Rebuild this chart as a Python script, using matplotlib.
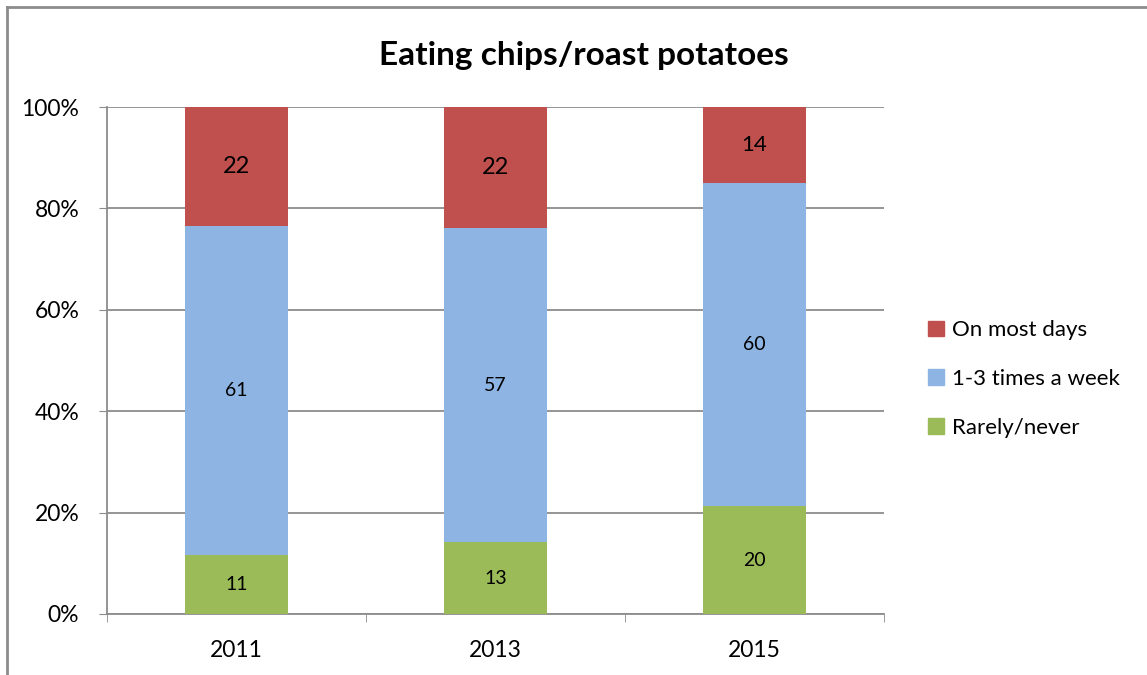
import matplotlib
matplotlib.use("Agg")
import matplotlib.pyplot as plt
from matplotlib.lines import Line2D
from matplotlib.patches import Patch
import numpy as np

years = ["2011", "2013", "2015"]
rarely = [11, 13, 20]
weekly = [61, 57, 60]
most_days = [22, 22, 14]
series_names = ["Rarely/never", "1-3 times a week", "On most days"]
colors = ["#9BBB59", "#8DB4E2", "#C0504D"]
label_sizes = [[14, 14, 14], [14, 14, 14], [17, 17, 16]]
y_ticks = [0, 20, 40, 60, 80, 100]

plt.rcParams['font.family'] = ['Lato', 'DejaVu Sans']

W, H = 1147, 675
fig = plt.figure(figsize=(W / 100, H / 100), dpi=100)
ax = fig.add_axes([107 / W, 1 - 614 / H, (884 - 107) / W, (614 - 107) / H])

data = np.array([rarely, weekly, most_days], dtype=float)
totals = data.sum(axis=0)
pct = data / totals * 100
x = np.arange(len(years))
bottom = np.zeros(len(years))
for i, name in enumerate(series_names):
    ax.bar(x, pct[i], 0.4, bottom=bottom, color=colors[i], label=name, zorder=3)
    for j in range(len(years)):
        ax.text(x[j], bottom[j] + pct[i][j] / 2, f"{int(data[i][j])}",
                ha="center", va="center", fontsize=label_sizes[i][j], color="black", zorder=4)
    bottom += pct[i]

ax.set_xlim(-0.5, len(years) - 0.5)
ax.set_ylim(0, 100)
ax.set_yticks(y_ticks)
ax.set_yticklabels([f"{v}%" for v in y_ticks], fontsize=16.5)
ax.set_xticks(x)
ax.set_xticklabels(years, fontsize=16.5)
ax.tick_params(axis="x", which="major", length=0, pad=19)
ax.set_xticks(np.arange(-0.5, len(years)), minor=True)
ax.tick_params(axis="x", which="minor", length=6, color="#8C8C8C", direction="out")
ax.tick_params(axis="y", length=6, color="#8C8C8C", direction="out", pad=14)
ax.grid(axis="y", color="#8C8C8C", linewidth=1.3, zorder=0)
for s in ["top", "right"]:
    ax.spines[s].set_visible(False)
for s in ["left", "bottom"]:
    ax.spines[s].set_color("#8C8C8C")
    ax.spines[s].set_linewidth(1.3)

fig.text((372 + 795) / 2 / W, 1 - 55 / H, "Eating chips/roast potatoes",
         ha="center", va="center", fontsize=24, fontweight="bold")

handles = [Patch(color=colors[i]) for i in [2, 1, 0]]
labels = [series_names[i] for i in [2, 1, 0]]
leg = fig.legend(handles, labels, loc="center left", bbox_to_anchor=(908 / W, 1 - 379 / H),
                 frameon=False, fontsize=16, handlelength=0.7, handleheight=0.7,
                 handletextpad=0.4, labelspacing=1.3)

fig.add_artist(Line2D([7 / W, 1], [1 - 7 / H, 1 - 7 / H], color="#8C8C8C", linewidth=2, transform=fig.transFigure))
fig.add_artist(Line2D([7 / W, 7 / W], [0, 1 - 7 / H], color="#8C8C8C", linewidth=2, transform=fig.transFigure))

fig.savefig("out.png", dpi=100, facecolor="white")
